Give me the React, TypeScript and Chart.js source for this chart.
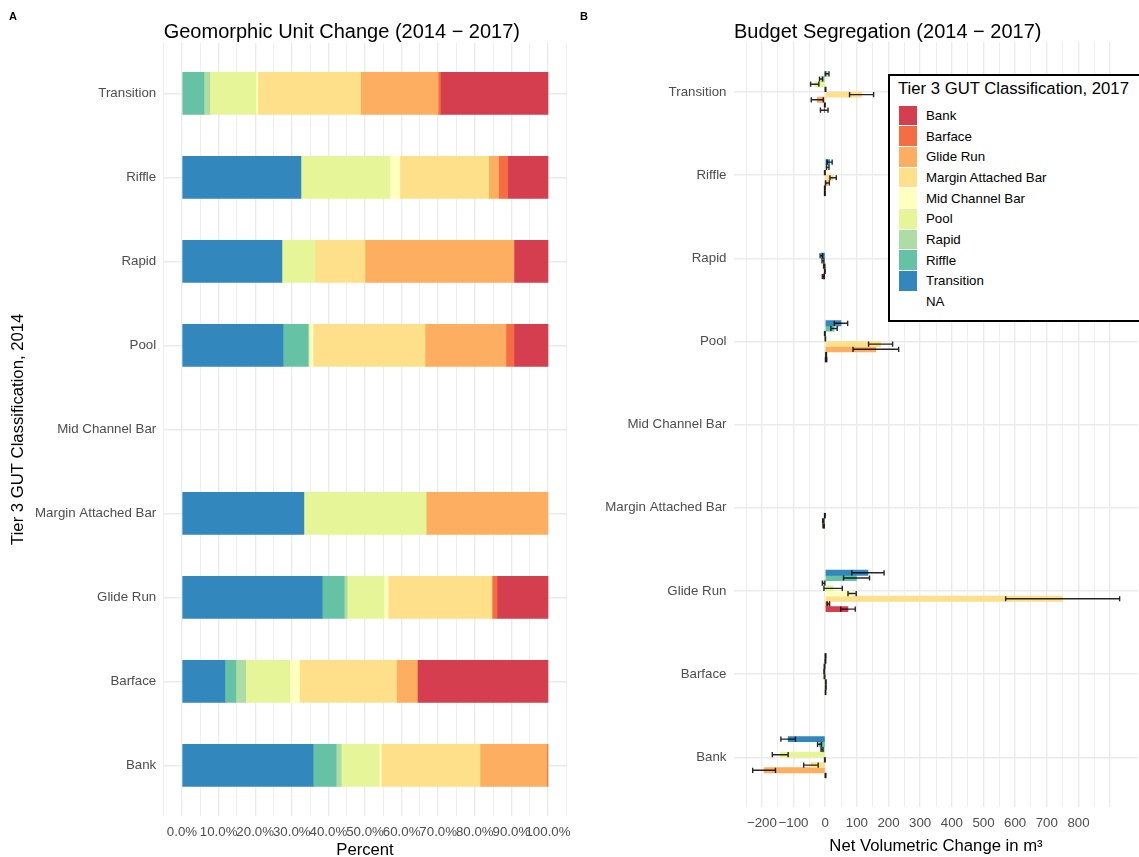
import React, { useEffect, useRef } from "react";
import { Chart, registerables } from "chart.js";

Chart.register(...registerables);

const FONT = "'Liberation Sans', Arial, Helvetica, sans-serif";

// 2014 units on the vertical axis, listed bottom (1) to top (9)
const UNITS_2014 = [
  "Bank",
  "Barface",
  "Glide Run",
  "Margin Attached Bar",
  "Mid Channel Bar",
  "Pool",
  "Rapid",
  "Riffle",
  "Transition",
];

// 2017 classes in stacking order (left to right)
const CLASSES_2017 = [
  "Transition",
  "Riffle",
  "Rapid",
  "Pool",
  "Mid Channel Bar",
  "Margin Attached Bar",
  "Glide Run",
  "Barface",
  "Bank",
];
const CLASS_COLORS = [
  "#3288BD",
  "#66C2A5",
  "#ABDDA4",
  "#E6F598",
  "#FFFFBF",
  "#FEE08B",
  "#FDAE61",
  "#F46D43",
  "#D53E4F",
];
const LEGEND_LABELS = [
  "Bank",
  "Barface",
  "Glide Run",
  "Margin Attached Bar",
  "Mid Channel Bar",
  "Pool",
  "Rapid",
  "Riffle",
  "Transition",
  "NA",
];

const PERCENT_TICKS = [0, 10, 20, 30, 40, 50, 60, 70, 80, 90, 100];
const VOLUME_TICKS = [-200, -100, 0, 100, 200, 300, 400, 500, 600, 700, 800];

// Panel A: percent of each 2014 unit (UNITS_2014 order) becoming each 2017 class
const PCT_TRANSITION = [35.8, 11.7, 38.3, 33.3, 0, 27.6, 27.3, 32.5, 0];
const PCT_RIFFLE = [6.3, 3.0, 6.0, 0, 0, 6.8, 0, 0, 6.0];
const PCT_RAPID = [1.4, 2.7, 0.8, 0, 0, 0.3, 0, 0, 1.6];
const PCT_POOL = [10.4, 12.0, 10.1, 33.4, 0, 0, 9.0, 24.3, 12.6];
const PCT_MID = [0.5, 2.7, 1.1, 0, 0, 1.1, 0, 2.7, 0.5];
const PCT_MARGIN = [27.0, 26.5, 28.4, 0, 0, 30.6, 13.7, 24.3, 28.1];
const PCT_GLIDE = [18.3, 5.7, 0, 33.3, 0, 22.1, 40.7, 2.7, 21.2];
const PCT_BARFACE = [0.3, 0, 1.4, 0, 0, 2.2, 0, 2.5, 0.6];
const PCT_BANK = [0, 35.7, 13.9, 0, 0, 9.3, 9.3, 11.0, 29.4];

// Panel B: net volumetric change (m3), null = class absent
const NET_TRANSITION = [-117, 1, 135, -1, null, 50, -12, 14, null];
const NET_RIFFLE = [-18, 0.5, 99, null, null, 28, null, null, 6];
const NET_RAPID = [-10, -2, -5, null, null, -1, null, null, -13];
const NET_POOL = [-142, -3, 25, -6, null, null, -7, 8, -33];
const NET_MID = [-1, -2, 85, null, null, 0.5, null, -1, 1];
const NET_MARGIN = [-45, 2, 750, null, null, 175, -3, 25, 115];
const NET_GLIDE = [-193, 2, null, -5, null, 160, -1, 7, -25];
const NET_BARFACE = [1, null, 10, null, null, 3, null, -1, -1];
const NET_BANK = [null, 1, 72, null, null, 3, -6, -1, -3];

// Panel B: error (+/-) on the net change
const ERR_TRANSITION = [23, 1, 51, 1, null, 21, 4, 8, null];
const ERR_RIFFLE = [6, 1, 41, null, null, 10, null, null, 6];
const ERR_RAPID = [3, 1, 4, null, null, 1, null, null, 5];
const ERR_POOL = [25, 1, 29, 2, null, null, 3, 4, 13];
const ERR_MID = [1, 1, 13, null, null, 0.5, null, 1, 1];
const ERR_MARGIN = [23, 1, 180, null, null, 38, 2, 10, 38];
const ERR_GLIDE = [36, 1, null, 2, null, 72, 1, 6, 19];
const ERR_BARFACE = [1, null, 4, null, null, 1, null, 1, 1];
const ERR_BANK = [null, 0.5, 23, null, null, 2, 3, 1, 12];

const PCT_SERIES = [PCT_TRANSITION, PCT_RIFFLE, PCT_RAPID, PCT_POOL, PCT_MID, PCT_MARGIN, PCT_GLIDE, PCT_BARFACE, PCT_BANK];
const NET_SERIES = [NET_TRANSITION, NET_RIFFLE, NET_RAPID, NET_POOL, NET_MID, NET_MARGIN, NET_GLIDE, NET_BARFACE, NET_BANK];
const ERR_SERIES = [ERR_TRANSITION, ERR_RIFFLE, ERR_RAPID, ERR_POOL, ERR_MID, ERR_MARGIN, ERR_GLIDE, ERR_BARFACE, ERR_BANK];

// ---- layout ----
const CANVAS_H = 862;
const A_W = 580;
const A_LEFT = 163.7;
const A_RIGHT = 566.3;
const A_TOP = 42.9;
const A_BOTTOM = 815.7;
const B_X = 570;
const B_W = 580;
const B_LEFT = 164;
const B_RIGHT = 568;
const B_TOP = 42.1;
const B_BOTTOM = 807.2;

const Y_MIN = 0.4;
const Y_MAX = 9.6;
const BAR_WIDTH = 0.5;
const A_BAND = (A_BOTTOM - A_TOP) / (Y_MAX - Y_MIN);
const B_BAND = (B_BOTTOM - B_TOP) / (Y_MAX - Y_MIN);

const N_SLOTS = Math.max(
  ...UNITS_2014.map((_, r) => NET_SERIES.filter((s) => s[r] !== null).length)
);

function dodgedY(r: number, ci: number): number {
  const present: number[] = [];
  for (let k = CLASSES_2017.length - 1; k >= 0; k--) {
    if (NET_SERIES[k][r] !== null) present.push(k);
  }
  const g = present.indexOf(ci) + 1;
  return r + 1 + BAR_WIDTH * ((g - 0.5) / N_SLOTS - 0.5);
}

const GRID = "#EBEBEB";
const TICK_COLOR = "#4D4D4D";

const errorBarPlugin = {
  id: "errorBars",
  afterDatasetsDraw(chart: any) {
    const { ctx } = chart;
    const xs = chart.scales.x;
    const ys = chart.scales.y;
    ctx.save();
    ctx.strokeStyle = "rgba(0,0,0,0.85)";
    ctx.lineWidth = 1.4;
    chart.data.datasets.forEach((ds: any) => {
      ds.data.forEach((p: any) => {
        if (p.lo === undefined) return;
        const x0 = xs.getPixelForValue(p.lo);
        const x1 = xs.getPixelForValue(p.hi);
        const yc = ys.getPixelForValue(p.y);
        const half = Math.abs(ys.getPixelForValue(p.y + BAR_WIDTH / N_SLOTS / 2) - yc);
        ctx.beginPath();
        ctx.moveTo(x0, yc);
        ctx.lineTo(x1, yc);
        ctx.moveTo(x0, yc - half);
        ctx.lineTo(x0, yc + half);
        ctx.moveTo(x1, yc - half);
        ctx.lineTo(x1, yc + half);
        ctx.stroke();
      });
    });
    ctx.restore();
  },
};

function yScale(showTitle: boolean, width: number) {
  return {
    type: "linear",
    min: Y_MIN,
    max: Y_MAX,
    offset: false,
    stacked: true,
    afterFit: (s: any) => {
      s.width = width;
    },
    border: { display: false },
    grid: { color: GRID, lineWidth: 1.4, drawTicks: false, offset: false },
    ticks: {
      stepSize: 1,
      includeBounds: false,
      autoSkip: false,
      padding: 7.5,
      color: TICK_COLOR,
      font: { family: FONT, size: 13.3 },
      callback: (v: number) => UNITS_2014[Math.round(v) - 1] ?? "",
    },
    title: {
      display: showTitle,
      text: "Tier 3 GUT Classification, 2014",
      color: "#000",
      font: { family: FONT, size: 16.7 },
      padding: { top: 8.3, bottom: 0 },
    },
  };
}

export default function App() {
  const refA = useRef<HTMLCanvasElement | null>(null);
  const refB = useRef<HTMLCanvasElement | null>(null);

  useEffect(() => {
    const dsA = CLASSES_2017.map((name, ci) => ({
      label: name,
      data: UNITS_2014.map((_, r) => ({
        x: PCT_SERIES[ci][r] > 0 ? PCT_SERIES[ci][r] : null,
        y: r + 1,
      })),
      backgroundColor: CLASS_COLORS[ci],
      borderWidth: 0,
      grouped: false,
      barThickness: A_BAND * BAR_WIDTH,
    }));

    const chartA = new Chart(refA.current as HTMLCanvasElement, {
      type: "bar",
      data: { datasets: dsA as any },
      options: {
        indexAxis: "y",
        responsive: false,
        animation: false,
        layout: { padding: { left: 0, top: A_TOP, right: A_W - A_RIGHT, bottom: 0 } },
        plugins: { legend: { display: false }, tooltip: { enabled: false }, title: { display: false } },
        scales: {
          x: {
            type: "linear",
            min: -5,
            max: 105,
            stacked: true,
            afterFit: (s: any) => {
              s.height = CANVAS_H - A_BOTTOM;
            },
            border: { display: false },
            grid: {
              color: GRID,
              drawTicks: false,
              lineWidth: (c: any) => (c.tick && Math.round(c.tick.value) % 10 === 0 ? 1.4 : 0.8),
            },
            ticks: {
              stepSize: 5,
              autoSkip: false,
              maxRotation: 0,
              minRotation: 0,
              padding: 8.5,
              color: TICK_COLOR,
              font: { family: FONT, size: 13.3 },
              callback: (v: number) => {
                const r = Math.round(v);
                return Math.abs(v - r) < 1e-6 && PERCENT_TICKS.includes(r) ? `${r.toFixed(1)}%` : "";
              },
            },
            title: {
              display: true,
              text: "Percent",
              color: "#000",
              font: { family: FONT, size: 16.7 },
              padding: { top: 0, bottom: 1.5 },
            },
          },
          y: yScale(true, A_LEFT) as any,
        },
      } as any,
    });

    const dsB = CLASSES_2017.map((name, ci) => ({
      label: name,
      data: UNITS_2014.flatMap((_, r) => {
        const v = NET_SERIES[ci][r];
        const e = ERR_SERIES[ci][r];
        if (v === null || e === null) return [];
        return [{ x: v, y: dodgedY(r, ci), lo: v - e, hi: v + e }];
      }),
      backgroundColor: CLASS_COLORS[ci],
      borderWidth: 0,
      grouped: false,
      barThickness: (B_BAND * BAR_WIDTH) / N_SLOTS,
    }));

    const chartB = new Chart(refB.current as HTMLCanvasElement, {
      type: "bar",
      data: { datasets: dsB as any },
      plugins: [errorBarPlugin],
      options: {
        indexAxis: "y",
        responsive: false,
        animation: false,
        layout: { padding: { left: 0, top: B_TOP, right: B_W - B_RIGHT, bottom: 0 } },
        plugins: { legend: { display: false }, tooltip: { enabled: false }, title: { display: false } },
        scales: {
          x: {
            type: "linear",
            min: -288,
            max: 988,
            afterFit: (s: any) => {
              s.height = CANVAS_H - B_BOTTOM;
            },
            border: { display: false },
            grid: {
              drawTicks: false,
              color: (c: any) => (c.tick && c.tick.value > 900 ? "rgba(0,0,0,0)" : GRID),
              lineWidth: (c: any) => (c.tick && Math.round(c.tick.value) % 100 === 0 ? 1.4 : 0.8),
            },
            ticks: {
              stepSize: 50,
              includeBounds: false,
              autoSkip: false,
              maxRotation: 0,
              minRotation: 0,
              padding: 8,
              color: TICK_COLOR,
              font: { family: FONT, size: 13.3 },
              callback: (v: number) => {
                const r = Math.round(v);
                if (!VOLUME_TICKS.includes(r)) return "";
                return r < 0 ? "\u2212" + Math.abs(r) : String(r);
              },
            },
            title: {
              display: true,
              text: "Net Volumetric Change in m\u00B3",
              color: "#000",
              font: { family: FONT, size: 16.7 },
              padding: { top: 0, bottom: 6 },
            },
          },
          y: { ...(yScale(false, B_LEFT) as any), stacked: false },
        },
      } as any,
    });

    return () => {
      chartA.destroy();
      chartB.destroy();
    };
  }, []);

  const titleStyle: React.CSSProperties = {
    position: "absolute",
    top: 20.9,
    fontSize: 20,
    lineHeight: "20px",
    whiteSpace: "nowrap",
    color: "#000",
  };
  const tagStyle: React.CSSProperties = {
    position: "absolute",
    top: 10.8,
    fontSize: 11,
    lineHeight: "11px",
    fontWeight: "bold",
    color: "#000",
  };

  return (
    <div
      style={{
        position: "absolute",
        left: 0,
        top: 0,
        width: 1139,
        height: 857,
        overflow: "hidden",
        background: "#fff",
        fontFamily: FONT,
      }}
    >
      <canvas
        ref={refA}
        width={A_W}
        height={CANVAS_H}
        style={{ position: "absolute", left: 0, top: 0, width: A_W, height: CANVAS_H }}
      />
      <canvas
        ref={refB}
        width={B_W}
        height={CANVAS_H}
        style={{ position: "absolute", left: B_X, top: 0, width: B_W, height: CANVAS_H }}
      />
      <div style={{ ...tagStyle, left: 9 }}>A</div>
      <div style={{ ...tagStyle, left: 580 }}>B</div>
      <div style={{ ...titleStyle, left: 163.7 }}>Geomorphic Unit Change (2014 − 2017)</div>
      <div style={{ ...titleStyle, left: 734 }}>Budget Segregation (2014 − 2017)</div>

      <div
        style={{
          position: "absolute",
          left: 888,
          top: 74,
          width: 270,
          height: 248,
          boxSizing: "border-box",
          border: "2px solid #000",
          background: "#fff",
        }}
      >
        <div
          style={{
            position: "absolute",
            left: 8,
            top: 5,
            fontSize: 16.7,
            lineHeight: "16.7px",
            whiteSpace: "nowrap",
            color: "#000",
          }}
        >
          Tier 3 GUT Classification, 2017
        </div>
        {LEGEND_LABELS.map((lab, i) => {
          const ci = CLASSES_2017.indexOf(lab);
          return (
            <div
              key={lab}
              style={{
                position: "absolute",
                left: 9,
                top: 29 + i * 20.7,
                height: 20.7,
                display: "flex",
                alignItems: "center",
              }}
            >
              <div
                style={{
                  width: 18,
                  height: 19.7,
                  background: ci >= 0 ? CLASS_COLORS[ci] : "transparent",
                }}
              />
              <div
                style={{
                  marginLeft: 9,
                  fontSize: 13.3,
                  whiteSpace: "nowrap",
                  color: "#000",
                }}
              >
                {lab}
              </div>
            </div>
          );
        })}
      </div>
    </div>
  );
}
